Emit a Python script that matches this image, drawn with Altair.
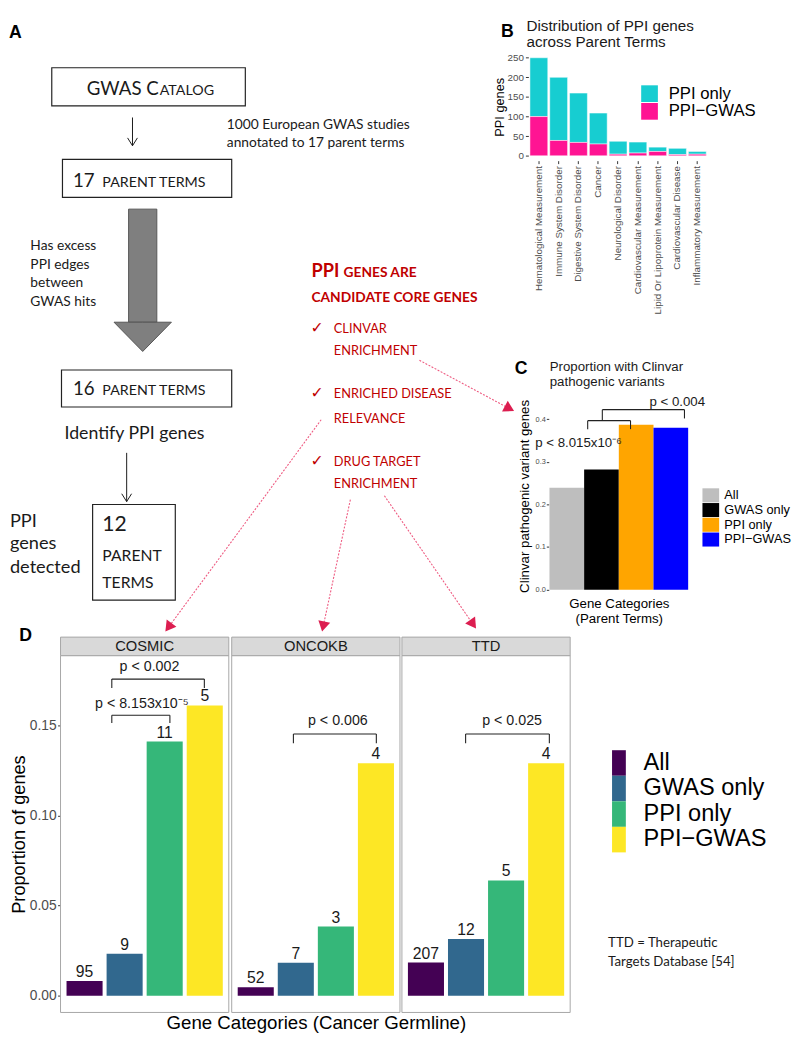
import math
import altair as alt
import pandas as pd

# ------------------------------------------------------------------ frame
W, H = 792.0, 1034.0
KX, KY = W / 800.0, H / 1042.0


def px(v):
    return round(v * KX, 2)


def py(v):
    return round(v * KY, 2)


SANS = "Liberation Sans"
CAL = "Lato"
RED = "#C00000"
INK = "#1A1A1A"
GRAY_LBL = "#4D4D4D"
GRAY_TICK = "#333333"

# ------------------------------------------------------------------ panel B data
B_TERMS = ["Hematological Measurement", "Immune System Disorder", "Digestive System Disorder",
           "Cancer", "Neurological Disorder", "Cardiovascular Measurement",
           "Lipid Or Lipoprotein Measurement", "Cardiovascular Disease", "Inflammatory Measurement"]
B_PPI_ONLY = [150, 161, 126, 79, 33, 28, 11, 16, 7]
B_PPI_GWAS = [100, 39, 34, 30, 4, 7, 11, 3, 4]
B_SERIES = ["PPI only", "PPI−GWAS"]
B_COLORS = ["#17CDD1", "#FF1493"]
B_TICKS = [0, 50, 100, 150, 200, 250]

# ------------------------------------------------------------------ panel C data
C_CATS = ["All", "GWAS only", "PPI only", "PPI−GWAS"]
C_PROP = [0.239, 0.282, 0.387, 0.380]
C_LEFT = [0.55, 0.775, 1.0, 1.225]
C_RIGHT = [0.775, 1.0, 1.225, 1.45]
C_COLORS = ["#BEBEBE", "#000000", "#FFA500", "#0000FF"]
C_TICKS = [0.0, 0.1, 0.2, 0.3, 0.4]
C_BR_X1 = [0.798, 0.893]
C_BR_X2 = [1.076, 1.426]
C_BR_TOP = [0.3966, 0.4224]
C_BR_LOWL = [0.3767, 0.3966]
C_BR_LOWR = [0.3767, 0.4018]
C_P_TEXT = ["p < 8.015x10⁻⁶", "p < 0.004"]
C_P_X = [0.738, 1.379]
C_P_Y = [0.344, 0.440]

# ------------------------------------------------------------------ panel D data
D_DBS = ["COSMIC", "ONCOKB", "TTD"]
D_CATS = ["All", "GWAS only", "PPI only", "PPI−GWAS"]
D_COLORS = ["#440154", "#31688E", "#35B779", "#FDE725"]
D_POS = [1, 2, 3, 4]
D_PROP = {
    "COSMIC": [0.0083, 0.0234, 0.141, 0.161],
    "ONCOKB": [0.0048, 0.0184, 0.0384, 0.129],
    "TTD": [0.0185, 0.0315, 0.064, 0.129],
}
D_N = {
    "COSMIC": [95, 9, 11, 5],
    "ONCOKB": [52, 7, 3, 4],
    "TTD": [207, 12, 5, 4],
}
D_TICKS = [0.0, 0.05, 0.10, 0.15]
# brackets: x1, x2, top, low-left, low-right
D_BRACKETS = {
    "COSMIC": [(1.68, 3.99, 0.1756, 0.1706, 0.1706), (1.68, 3.13, 0.1556, 0.1513, 0.1513)],
    "ONCOKB": [(1.94, 4.01, 0.1452, 0.1400, 0.1400)],
    "TTD": [(1.99, 4.08, 0.1452, 0.1400, 0.1400)],
}
D_PLAB = {
    "COSMIC": [("p < 0.002", 2.62, 0.1821), ("p < 8.153x10⁻⁵", 2.43, 0.1618)],
    "ONCOKB": [("p < 0.006", 3.05, 0.1522)],
    "TTD": [("p < 0.025", 3.15, 0.1522)],
}

# ------------------------------------------------------------------ panel A (diagram) content
BOX_X1 = [45, 56, 55, 87]
BOX_Y1 = [52, 146, 362, 500]
BOX_X2 = [244, 230, 230, 172]
BOX_Y2 = [91, 185, 400, 598]

T_BIG_RIGHT = [("GWAS C", 155, 80), ("17", 89, 174), ("16", 89, 388)]
T_SMALL_LEFT = [("ATALOG", 156, 80), ("PARENT TERMS", 97, 174), ("PARENT TERMS", 97, 388)]
T_TWELVE = [("12", 97, 527, 21.5), ("PARENT", 97, 558, 16.5), ("TERMS", 97, 586, 16)]
T_NOTE14 = [("1000 European GWAS studies", 225, 110.5), ("annotated to 17 parent terms", 225, 129),
            ("Has excess", 23, 235), ("PPI edges", 23, 254), ("between", 23, 273), ("GWAS hits", 23, 292)]
T_BIG18 = [("PPI", 2, 517), ("genes", 2, 540), ("detected", 2, 564)]
T_IDENT = [("Identify PPI genes", 130, 428)]
T_NOTE_TTD = [("TTD = Therapeutic", 617, 950), ("Targets Database [54]", 617, 969)]

R_HEAD_BIG = [("PPI", 312, 267)]
R_HEAD = [("GENES ARE", 345, 267), ("CANDIDATE CORE GENES", 312, 292.7)]
R_ITEMS = [("CLINVAR", 335, 324), ("ENRICHMENT", 335, 347), ("ENRICHED DISEASE", 335, 391),
           ("RELEVANCE", 335, 416), ("DRUG TARGET", 335, 460.7), ("ENRICHMENT", 335, 482.7)]
R_CHECKS = [("✓", 311, 324), ("✓", 311, 391), ("✓", 311, 460.7)]

LETTERS = [("A", 7.5, 16), ("B", 513.5, 15), ("C", 527.5, 361), ("D", 18, 635)]
TITLE_B = [("Distribution of PPI genes", 533, 9), ("across Parent Terms", 533, 26)]
TITLE_C = [("Proportion with Clinvar", 557, 359), ("pathogenic variants", 557, 374)]

ARR_X = [128, 122]
ARR_Y1 = [103, 447]
ARR_Y2 = [132, 497]

BLOCK_X1, BLOCK_X2, BLOCK_Y1, BLOCK_Y2 = [124], [153], [197], [313]
HEAD_X = [109, 138.5, 168]
HEAD_Y = [313, 313, 313]
HEAD_Y2 = [313, 343, 313]

RA_X1 = [423, 322, 352, 387]
RA_Y1 = [352, 413, 495, 491]
RA_X2 = [520, 162, 323, 481]
RA_Y2 = [404, 630, 630, 627]

# ------------------------------------------------------------------ layout (reference px)
D_LEFT = [54, 230, 405]
D_RIGHT = [227, 403, 578]
D_TOP, D_BOTTOM, D_HEAD_TOP = 655, 1021, 636
D_YMIN, D_YMAX = -0.0092, 0.1886
D_HEAD_Y = D_YMAX + (D_TOP - D_HEAD_TOP) * (D_YMAX - D_YMIN) / (D_BOTTOM - D_TOP)

# ================================================================== panel A layer
SXA = alt.Scale(domain=[0, 800], range=[0, W], nice=False, zero=False)
SYA = alt.Scale(domain=[0, 1042], range=[0, H], nice=False, zero=False)


def ax_x(f="x"):
    return alt.X(f"{f}:Q", scale=SXA, axis=None)


def ax_y(f="y"):
    return alt.Y(f"{f}:Q", scale=SYA, axis=None)


def txt(items, size, font=CAL, weight="normal", align="left", color=INK, baseline="middle"):
    df = pd.DataFrame(items, columns=["t", "x", "y"])
    return alt.Chart(df).mark_text(font=font, fontSize=size, fontWeight=weight, align=align,
                                   baseline=baseline, color=color).encode(
        x=ax_x(), y=ax_y(), text="t:N")


boxes = alt.Chart(pd.DataFrame(dict(x=BOX_X1, y=BOX_Y1, x2=BOX_X2, y2=BOX_Y2))).mark_rect(
    fill="white", stroke="#222222", strokeWidth=1.2).encode(x=ax_x(), y=ax_y(), x2="x2:Q", y2="y2:Q")

arr_df = pd.DataFrame(dict(x=ARR_X, y=ARR_Y1, y2=ARR_Y2))
arr_lines = alt.Chart(arr_df).mark_rule(color=INK, strokeWidth=1).encode(x=ax_x(), y=ax_y(), y2="y2:Q")
arr_heads = alt.Chart(arr_df).mark_point(shape="M-1,-1.6L0,0L1,-1.6", filled=False, stroke=INK,
                                         strokeWidth=1, size=100, opacity=1).encode(
    x=ax_x(), y=ax_y("y2"))

block = alt.Chart(pd.DataFrame(dict(x=BLOCK_X1, x2=BLOCK_X2, y=BLOCK_Y1, y2=BLOCK_Y2))).mark_rect(
    fill="#7F7F7F", stroke="#555555", strokeWidth=1).encode(x=ax_x(), y=ax_y(), x2="x2:Q", y2="y2:Q")
block_head = alt.Chart(pd.DataFrame(dict(x=HEAD_X, y=HEAD_Y, y2=HEAD_Y2))).mark_area(
    color="#7F7F7F", stroke="#555555", strokeWidth=1, opacity=1).encode(x=ax_x(), y=ax_y(), y2="y2:Q")

ra_rows, rh_rows = [], []
for x1, y1, x2, y2 in zip(RA_X1, RA_Y1, RA_X2, RA_Y2):
    dx, dy = x2 - x1, y2 - y1
    L = math.hypot(dx, dy)
    ux, uy = dx / L, dy / L
    ra_rows.append(dict(x=x1, y=y1, x2=x2 - ux * 8, y2=y2 - uy * 8))
    rh_rows.append(dict(x=x2 - ux * 5, y=y2 - uy * 5, ang=math.degrees(math.atan2(dx, -dy)) % 360))
red_lines = alt.Chart(pd.DataFrame(ra_rows)).mark_rule(color="#EE5A80", strokeWidth=1.1,
                                                       strokeDash=[2, 1.5]).encode(
    x=ax_x(), y=ax_y(), x2="x2:Q", y2="y2:Q")
red_heads = alt.Chart(pd.DataFrame(rh_rows)).mark_point(shape="triangle-up", filled=True, color="#DC1E50",
                                                        size=150, opacity=1).encode(
    x=ax_x(), y=ax_y(), angle=alt.Angle("ang:Q", scale=None))

layer_A = alt.layer(
    boxes, arr_lines, arr_heads, block, block_head, red_lines, red_heads,
    txt(T_BIG_RIGHT, 19, align="right", baseline="alphabetic"),
    txt(T_SMALL_LEFT, 14.5, baseline="alphabetic"),
    txt([(t, x, y) for t, x, y, s in T_TWELVE if s > 20], 21.5, baseline="alphabetic"),
    txt([(t, x, y) for t, x, y, s in T_TWELVE if s <= 20], 16, baseline="alphabetic"),
    txt(T_NOTE14, 14),
    txt(T_BIG18, 18.5),
    txt(T_IDENT, 18, align="center"),
    txt(T_NOTE_TTD, 13.5),
    txt(R_HEAD_BIG, 18.5, weight="bold", color=RED, baseline="alphabetic"),
    txt(R_HEAD, 14, weight="bold", color=RED, baseline="alphabetic"),
    txt(R_ITEMS, 13, color=RED, baseline="alphabetic"),
    txt(R_CHECKS, 16, font="DejaVu Sans", color=RED, baseline="alphabetic"),
    txt(LETTERS, 18, font=SANS, weight="bold", align="center", color="black"),
    txt(TITLE_B, 15.5, font=SANS, color=INK),
    txt(TITLE_C, 13.5, font=SANS, color=INK),
)

# ================================================================== panel B layer
b_rows = []
for t, o, g in zip(B_TERMS, B_PPI_ONLY, B_PPI_GWAS):
    b_rows.append({"term": t, "series": B_SERIES[0], "n": o, "ord": 1})
    b_rows.append({"term": t, "series": B_SERIES[1], "n": g, "ord": 0})
b_df = pd.DataFrame(b_rows)

layer_B = alt.Chart(b_df).mark_bar(stroke="white", strokeWidth=0.5).encode(
    x=alt.X("term:N", sort=B_TERMS,
            scale=alt.Scale(range=[px(535), px(719.5)], paddingInner=0.1, paddingOuter=0.08),
            axis=alt.Axis(orient="bottom", offset=round(py(147.3) - H, 2), title=None, labelAngle=270,
                          labelFontSize=10, labelFont=SANS, labelColor=GRAY_LBL, tickSize=3,
                          tickColor=GRAY_TICK, domain=False, grid=False, labelPadding=2, labelLimit=0)),
    y=alt.Y("n:Q", stack="zero",
            scale=alt.Scale(domain=[-12.5, 262.5], range=[py(147.3), py(36.7)], nice=False, zero=False),
            axis=alt.Axis(orient="left", offset=-px(535), values=B_TICKS, title="PPI genes",
                          titleFont=SANS, titleFontSize=13, titleFontWeight="normal", titleColor="black",
                          titlePadding=1, labelFontSize=10, labelFont=SANS, labelColor=GRAY_LBL,
                          tickSize=3, tickColor=GRAY_TICK, domain=False, grid=False, labelPadding=2)),
    color=alt.Color("series:N", scale=alt.Scale(domain=B_SERIES, range=B_COLORS),
                    legend=alt.Legend(title=None, orient="none", legendX=px(651), legendY=py(70),
                                      symbolType="square", symbolSize=289, symbolStrokeWidth=0,
                                      labelFontSize=17, labelFont=SANS, labelColor="black",
                                      labelOffset=11, rowPadding=0, padding=0, labelLimit=0)),
    order=alt.Order("ord:Q"),
)

# ================================================================== panel C layer
SXC = alt.Scale(domain=[0.55, 1.45], range=[px(556.7), px(699.3)], nice=False, zero=False)
SYC = alt.Scale(domain=[0, 0.44], range=[py(587.3), py(395.0)], nice=False, zero=False)
C_XAX = alt.Axis(orient="bottom", offset=round(py(588) - H, 2), labels=False, ticks=False, domain=False,
                 grid=False, title=["Gene Categories", "(Parent Terms)"], titleFont=SANS, titleFontSize=13.5,
                 titleFontWeight="normal", titleColor="black", titlePadding=7, titleLineHeight=15)
C_YAX = alt.Axis(orient="left", offset=-px(556), values=C_TICKS, format=".1f",
                 title="Clinvar pathogenic variant genes", titleFont=SANS, titleFontSize=13.5,
                 titleFontWeight="normal", titleColor="black", titlePadding=4, labelFontSize=7.5,
                 labelFont=SANS, labelColor=GRAY_LBL, tickSize=2.5, tickColor=GRAY_TICK, domain=False,
                 grid=False, labelPadding=1)

c_df = pd.DataFrame({"cat": C_CATS, "p": C_PROP, "x1": C_LEFT, "x2": C_RIGHT, "base": [0.0] * 4})
c_bars = alt.Chart(c_df).mark_bar().encode(
    x=alt.X("x1:Q", scale=SXC, axis=C_XAX), x2="x2:Q",
    y=alt.Y("p:Q", scale=SYC, axis=C_YAX), y2="base:Q",
    color=alt.Color("cat:N", scale=alt.Scale(domain=C_CATS, range=C_COLORS),
                    legend=alt.Legend(title=None, orient="none", legendX=px(715), legendY=py(483),
                                      symbolType="M-1.19,-1H1.19V1H-1.19Z", symbolSize=204,
                                      symbolStrokeWidth=0, labelFontSize=13, labelFont=SANS,
                                      labelColor="black", labelOffset=6.3, rowPadding=0, padding=0,
                                      labelLimit=0)),
)
c_seg = []
for x1, x2, top, lo_l, lo_r in zip(C_BR_X1, C_BR_X2, C_BR_TOP, C_BR_LOWL, C_BR_LOWR):
    c_seg += [dict(x1=x1, x2=x2, p=top, base=top), dict(x1=x1, x2=x1, p=top, base=lo_l),
              dict(x1=x2, x2=x2, p=top, base=lo_r)]
c_br = alt.Chart(pd.DataFrame(c_seg)).mark_rule(color="#222222", strokeWidth=1.1).encode(
    x=alt.X("x1:Q", scale=SXC, axis=C_XAX), x2="x2:Q",
    y=alt.Y("p:Q", scale=SYC, axis=C_YAX), y2="base:Q")
c_pl = alt.Chart(pd.DataFrame({"t": C_P_TEXT, "x1": C_P_X, "p": C_P_Y})).mark_text(
    font=SANS, fontSize=13.5, color=INK, baseline="middle").encode(
    x=alt.X("x1:Q", scale=SXC, axis=C_XAX), y=alt.Y("p:Q", scale=SYC, axis=C_YAX), text="t:N")
layer_C = alt.layer(c_bars, c_br, c_pl)

# ================================================================== panel D layers


def d_panel(k):
    db = D_DBS[k]
    sx = alt.Scale(domain=[0.4, 4.6], range=[px(D_LEFT[k]), px(D_RIGHT[k])], nice=False, zero=False)
    sy = alt.Scale(domain=[D_YMIN, D_YMAX], range=[py(D_BOTTOM), py(D_TOP)], nice=False, zero=False)
    if k == 0:
        yax = alt.Axis(orient="left", offset=-px(54), values=D_TICKS, format=".2f",
                       title="Proportion of genes", titleFont=SANS, titleFontSize=18.5,
                       titleFontWeight="normal", titleColor="black", titlePadding=1,
                       labelFontSize=14, labelFont=SANS, labelColor=GRAY_LBL, tickSize=3,
                       tickColor=GRAY_TICK, domain=False, grid=False, labelPadding=1.5)
    else:
        yax = None
    if k == 1:
        xax = alt.Axis(orient="bottom", offset=round(py(D_BOTTOM) - H, 2), labels=False, ticks=False,
                       domain=False, grid=False, title="Gene Categories (Cancer Germline)",
                       titleFont=SANS, titleFontSize=19, titleFontWeight="normal", titleColor="black",
                       titlePadding=1)
    else:
        xax = None

    def X(f):
        return alt.X(f"{f}:Q", scale=sx, axis=xax)

    def Y(f):
        return alt.Y(f"{f}:Q", scale=sy, axis=yax)

    frame = alt.Chart(pd.DataFrame(dict(a=[0.4], b=[4.6], lo=[D_YMIN], hi=[D_YMAX]))).mark_rect(
        fillOpacity=0, stroke="#A6A6A6", strokeWidth=1).encode(x=X("a"), x2="b:Q", y=Y("lo"), y2="hi:Q")
    head = alt.Chart(pd.DataFrame(dict(a=[0.4], b=[4.6], lo=[D_YMAX], hi=[D_HEAD_Y]))).mark_rect(
        fill="#D9D9D9", stroke="#A6A6A6", strokeWidth=1).encode(x=X("a"), x2="b:Q", y=Y("lo"), y2="hi:Q")
    head_t = alt.Chart(pd.DataFrame(dict(t=[db], a=[2.5], lo=[(D_YMAX + D_HEAD_Y) / 2]))).mark_text(
        font=SANS, fontSize=15, color=INK, baseline="middle").encode(x=X("a"), y=Y("lo"), text="t:N")

    df = pd.DataFrame({"cat": D_CATS, "pos": D_POS, "p": D_PROP[db], "n": D_N[db]})
    df["a"] = df["pos"] - 0.45
    df["b"] = df["pos"] + 0.45
    df["base"] = 0.0
    if k == 2:
        leg = alt.Legend(title=None, orient="none", legendX=px(615), legendY=py(752),
                         symbolType="M-0.54,-1H0.54V1H-0.54Z", symbolSize=676, symbolStrokeWidth=0,
                         labelFontSize=24, labelFont=SANS, labelColor="black", labelOffset=12,
                         rowPadding=0, padding=0, labelLimit=0)
    else:
        leg = None
    bars = alt.Chart(df).mark_bar().encode(
        x=X("a"), x2="b:Q", y=Y("p"), y2="base:Q",
        color=alt.Color("cat:N", scale=alt.Scale(domain=D_CATS, range=D_COLORS), legend=leg))
    vals = alt.Chart(df).mark_text(font=SANS, fontSize=16, color=INK, baseline="bottom", dy=-1).encode(
        x=X("pos"), y=Y("p"), text="n:N")

    seg = []
    for x1, x2, top, lo_l, lo_r in D_BRACKETS[db]:
        seg += [dict(a=x1, b=x2, p=top, base=top), dict(a=x1, b=x1, p=top, base=lo_l),
                dict(a=x2, b=x2, p=top, base=lo_r)]
    br = alt.Chart(pd.DataFrame(seg)).mark_rule(color="#222222", strokeWidth=1.1).encode(
        x=X("a"), x2="b:Q", y=Y("p"), y2="base:Q")
    pl = alt.Chart(pd.DataFrame(D_PLAB[db], columns=["t", "a", "p"])).mark_text(
        font=SANS, fontSize=14.5, color=INK, baseline="middle").encode(x=X("a"), y=Y("p"), text="t:N")
    return alt.layer(frame, head, head_t, bars, vals, br, pl)


layers_D = [d_panel(k) for k in range(3)]

chart = alt.layer(layer_A, layer_B, layer_C, *layers_D).resolve_scale(
    x="independent", y="independent", color="independent"
).properties(width=W, height=H, padding=0).configure_view(stroke=None)

chart.save("out.html", embed_options={"renderer": "svg", "actions": False})
